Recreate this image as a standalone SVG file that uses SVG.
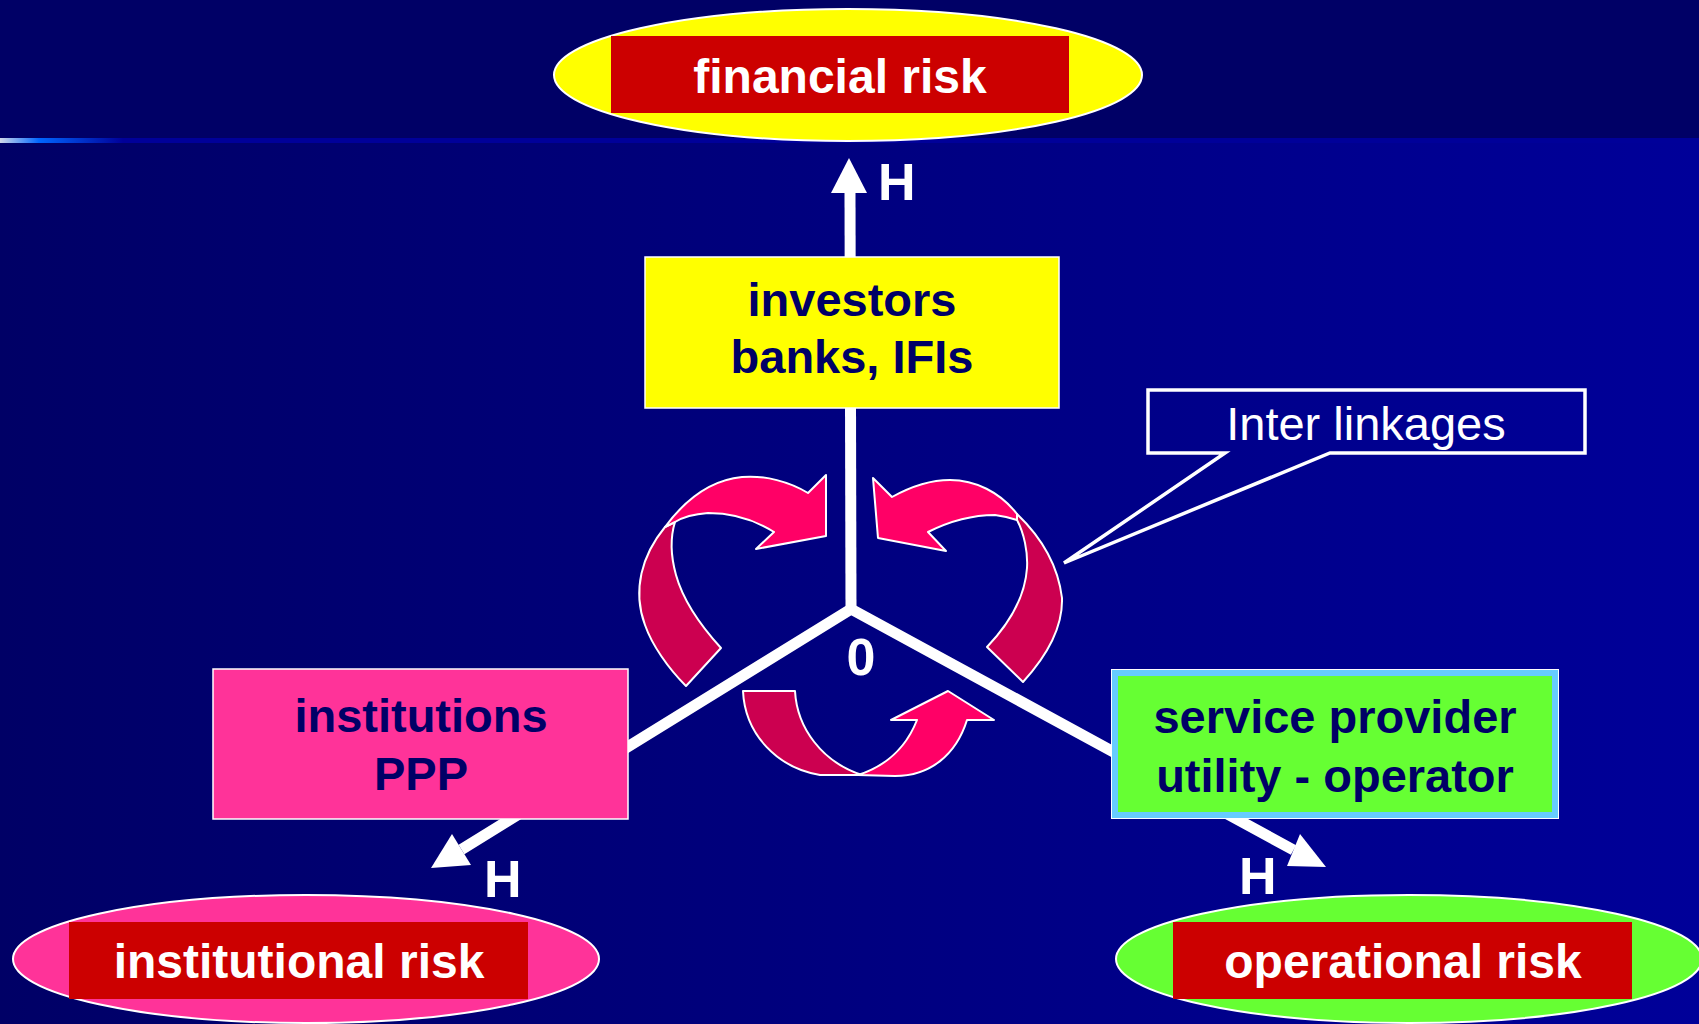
<svg xmlns="http://www.w3.org/2000/svg" width="1699" height="1024" viewBox="0 0 1699 1024">
<defs>
<linearGradient id="bg" x1="0" y1="0" x2="1" y2="0">
<stop offset="0" stop-color="#000066"/>
<stop offset="1" stop-color="#000099"/>
</linearGradient>
<linearGradient id="sep" x1="0" y1="0" x2="300" y2="0" gradientUnits="userSpaceOnUse">
<stop offset="0" stop-color="#d0d8e8"/>
<stop offset="0.13" stop-color="#0066ff"/>
<stop offset="0.41" stop-color="#000099"/>
<stop offset="1" stop-color="#000099"/>
</linearGradient>
<style>
.box{stroke:#ffffff;stroke-width:1.5}
.ell{stroke:#ffffff;stroke-width:2}
.risk{fill:#cc0000}
.rt{font-family:"Liberation Sans",Arial,sans-serif;font-weight:bold;font-size:48px;fill:#ffffff;text-anchor:middle}
.nt{font-family:"Liberation Sans",Arial,sans-serif;font-weight:bold;font-size:47px;fill:#000066;text-anchor:middle}
.h{font-family:"Liberation Sans",Arial,sans-serif;font-weight:bold;font-size:52px;fill:#ffffff}
.ln{fill:none;stroke:#ffffff;stroke-width:11}
.hd{fill:#ffffff}
.lt{fill:#ff0066;stroke:#ffffff;stroke-width:2;stroke-linejoin:round}
.dk{fill:#cc0050;stroke:#ffffff;stroke-width:2;stroke-linejoin:round}
</style>
</defs>
<rect x="0" y="0" width="1699" height="1024" fill="url(#bg)"/>
<rect x="0" y="0" width="1699" height="138" fill="#000066"/>
<rect x="0" y="138" width="1699" height="5" fill="url(#sep)"/>

<g id="connectors">
<path class="ln" d="M850,193 L851,612"/>
<path class="ln" d="M461.5,849.5 L851,609 L1293.5,850" stroke-linejoin="miter"/>
<polygon class="hd" points="831,193 867,193 849,158"/>
<polygon class="hd" points="452,834 471,865 431,868"/>
<polygon class="hd" points="1300,834 1287,866 1326,867"/>
</g>

<g id="interlinkage-arrows">
<path class="dk" d="M665,527 C642,555 632,590 645,625 C652,645 668,668 686,686 L721,648 C700,625 683,600 676,575 C671,557 670,538 675,522 Z"/>
<path class="lt" d="M665,527 C685,500 710,480 742,477 C765,475 790,482 808,493 L826,475 L826,536 L756,549 L774,532 C755,520 732,513 708,513 C695,514 683,517 675,522 Z"/>
<path class="dk" d="M1017,514 C1040,536 1058,565 1062,598 C1063,628 1045,658 1023,682 L987,647 C1008,625 1025,598 1027,568 C1028,552 1024,533 1017,520 Z"/>
<path class="lt" d="M1017,514 C1000,492 975,480 950,480 C930,480 910,487 892,497 L873,478 L878,538 L946,551 L928,532 C950,521 975,515 995,515 C1003,516 1011,518 1017,520 Z"/>
<path class="dk" d="M743,691 L795,691 C797,728 822,762 862,775 L820,775 C778,768 745,735 743,691 Z"/>
<path class="lt" d="M858,775 C886,766 906,748 917,720 L891,720 L948,691 L994,720 L967,720 C956,755 930,776 895,776 Z"/>
</g>

<g id="origin">
<text class="h" x="861" y="675" text-anchor="middle">0</text>
</g>

<g id="investors">
<rect class="box" x="645" y="257" width="414" height="151" fill="#ffff00"/>
<text class="nt" x="852" y="316">investors</text>
<text class="nt" x="852" y="373">banks, IFIs</text>
</g>

<g id="institutions">
<rect class="box" x="213" y="669" width="415" height="150" fill="#ff3399"/>
<text class="nt" x="421" y="732">institutions</text>
<text class="nt" x="421" y="790">PPP</text>
</g>

<g id="service-provider">
<rect x="1111" y="669" width="448" height="150" fill="#ffffff"/>
<rect x="1115" y="673" width="440" height="142" fill="#66ff33" stroke="#66ccff" stroke-width="6"/>
<text class="nt" x="1335" y="733">service provider</text>
<text class="nt" x="1335" y="792">utility - operator</text>
</g>

<g id="financial-risk">
<ellipse class="ell" cx="848" cy="75" rx="294" ry="66" fill="#ffff00"/>
<rect class="risk" x="611" y="36" width="458" height="77"/>
<text class="rt" x="840" y="93">financial risk</text>
</g>

<g id="institutional-risk">
<ellipse class="ell" cx="306" cy="959" rx="293" ry="64" fill="#ff3399"/>
<rect class="risk" x="69" y="922" width="459" height="77"/>
<text class="rt" x="299" y="978">institutional risk</text>
</g>

<g id="operational-risk">
<ellipse class="ell" cx="1409" cy="959" rx="293" ry="64" fill="#66ff33"/>
<rect class="risk" x="1173" y="922" width="459" height="77"/>
<text class="rt" x="1403" y="978">operational risk</text>
</g>

<g id="h-labels">
<text class="h" x="878" y="200">H</text>
<text class="h" x="484" y="897">H</text>
<text class="h" x="1239" y="894">H</text>
</g>

<g id="inter-linkages">
<path d="M1148,390 H1585 V453 H1330 L1064,563 L1225,453 H1148 Z" fill="none" stroke="#ffffff" stroke-width="3.5" stroke-linejoin="miter"/>
<text x="1366" y="440" font-family="'Liberation Sans',Arial,sans-serif" font-size="47" fill="#ffffff" text-anchor="middle">Inter linkages</text>
</g>
</svg>
